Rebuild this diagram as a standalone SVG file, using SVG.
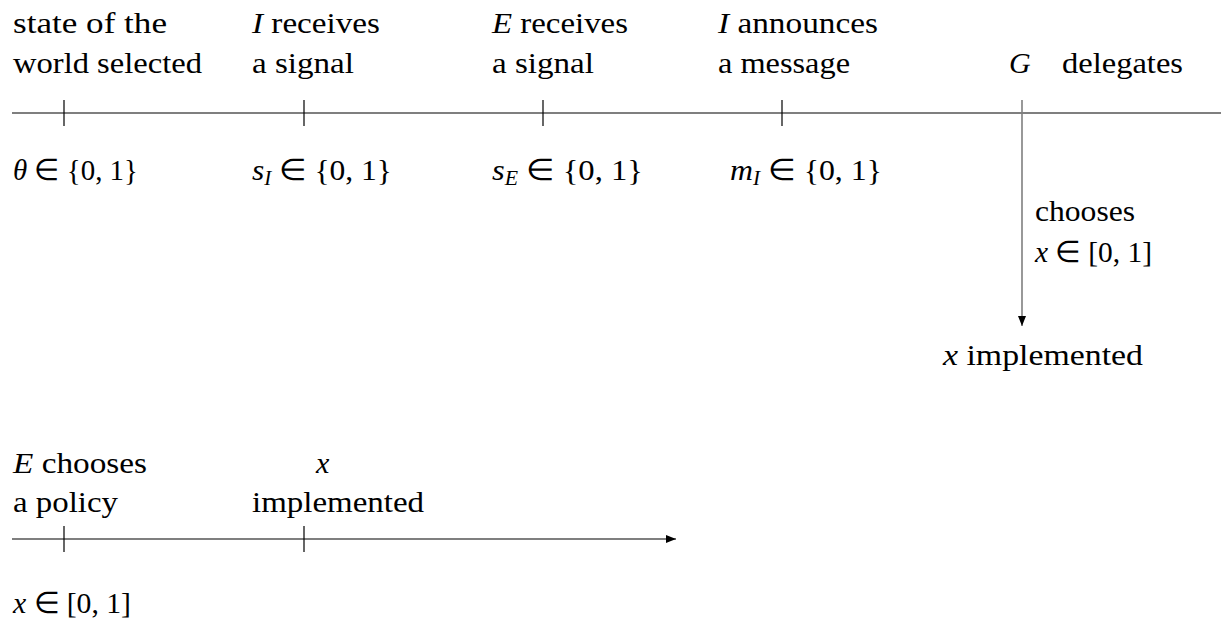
<svg xmlns="http://www.w3.org/2000/svg" width="1223" height="632" viewBox="0 0 1223 632">
<style>
text{font-family:"Liberation Serif","Times New Roman",serif;font-size:30px;fill:#000}
.i{font-style:italic}
.sub{font-size:20px;font-style:italic}
.ln{stroke:#000;stroke-width:1.2;fill:none}
.tk{stroke:#000;stroke-width:1.2}
.gr{stroke:#7f7f7f;stroke-width:1.6;fill:none}
</style>
<defs>
<marker id="ah" viewBox="0 0 10 8" refX="10" refY="4" markerWidth="10" markerHeight="8" markerUnits="userSpaceOnUse" orient="auto">
<path d="M0,0 L10,4 L0,8 Z" fill="#000"/>
</marker>
</defs>
<rect width="1223" height="632" fill="#fff"/>
<g id="connectors">
<line class="ln" x1="12" y1="113" x2="1221" y2="113"/>
<line class="tk" x1="64" y1="100" x2="64" y2="126"/>
<line class="tk" x1="304" y1="100" x2="304" y2="126"/>
<line class="tk" x1="543" y1="100" x2="543" y2="126"/>
<line class="tk" x1="782" y1="100" x2="782" y2="126"/>
<line class="gr" x1="1022" y1="100" x2="1022" y2="326" marker-end="url(#ah)"/>
<line class="ln" x1="12" y1="539" x2="676" y2="539" marker-end="url(#ah)"/>
<line class="tk" x1="64" y1="526" x2="64" y2="552"/>
<line class="tk" x1="304" y1="526" x2="304" y2="552"/>
</g>
<g id="n1">
<text x="13" y="33" textLength="154" lengthAdjust="spacingAndGlyphs">state of the</text>
<text x="13" y="73" textLength="189" lengthAdjust="spacingAndGlyphs">world selected</text>
<text x="13" y="180" textLength="125" lengthAdjust="spacingAndGlyphs"><tspan class="i">θ</tspan> ∈ {0, 1}</text>
</g>
<g id="n2">
<text x="252" y="33" textLength="128" lengthAdjust="spacingAndGlyphs"><tspan class="i">I</tspan> receives</text>
<text x="252" y="73" textLength="102" lengthAdjust="spacingAndGlyphs">a signal</text>
<text x="252" y="180" textLength="140" lengthAdjust="spacingAndGlyphs"><tspan class="i">s</tspan><tspan class="sub" dy="5">I</tspan><tspan dy="-5"> ∈ {0, 1}</tspan></text>
</g>
<g id="n3">
<text x="492" y="33" textLength="136" lengthAdjust="spacingAndGlyphs"><tspan class="i">E</tspan> receives</text>
<text x="492" y="73" textLength="102" lengthAdjust="spacingAndGlyphs">a signal</text>
<text x="492" y="180" textLength="151" lengthAdjust="spacingAndGlyphs"><tspan class="i">s</tspan><tspan class="sub" dy="5">E</tspan><tspan dy="-5"> ∈ {0, 1}</tspan></text>
</g>
<g id="n4">
<text x="718" y="33" textLength="160" lengthAdjust="spacingAndGlyphs"><tspan class="i">I</tspan> announces</text>
<text x="718" y="73" textLength="132" lengthAdjust="spacingAndGlyphs">a message</text>
<text x="730" y="180" textLength="152" lengthAdjust="spacingAndGlyphs"><tspan class="i">m</tspan><tspan class="sub" dy="5">I</tspan><tspan dy="-5"> ∈ {0, 1}</tspan></text>
</g>
<g id="n5">
<text x="1009" y="73" class="i">G</text>
<text x="1062" y="73" textLength="121" lengthAdjust="spacingAndGlyphs">delegates</text>
<text x="1035" y="221" textLength="100" lengthAdjust="spacingAndGlyphs">chooses</text>
<text x="1035" y="262" textLength="117" lengthAdjust="spacingAndGlyphs"><tspan class="i">x</tspan> ∈ [0, 1]</text>
</g>
<g id="n6">
<text x="943" y="365" textLength="200" lengthAdjust="spacingAndGlyphs"><tspan class="i">x</tspan> implemented</text>
</g>
<g id="n7">
<text x="13" y="473" textLength="134" lengthAdjust="spacingAndGlyphs"><tspan class="i">E</tspan> chooses</text>
<text x="13" y="512" textLength="105" lengthAdjust="spacingAndGlyphs">a policy</text>
<text x="13" y="613" textLength="118" lengthAdjust="spacingAndGlyphs"><tspan class="i">x</tspan> ∈ [0, 1]</text>
</g>
<g id="n8">
<text x="316" y="473" class="i">x</text>
<text x="252" y="512" textLength="172" lengthAdjust="spacingAndGlyphs">implemented</text>
</g>
</svg>
